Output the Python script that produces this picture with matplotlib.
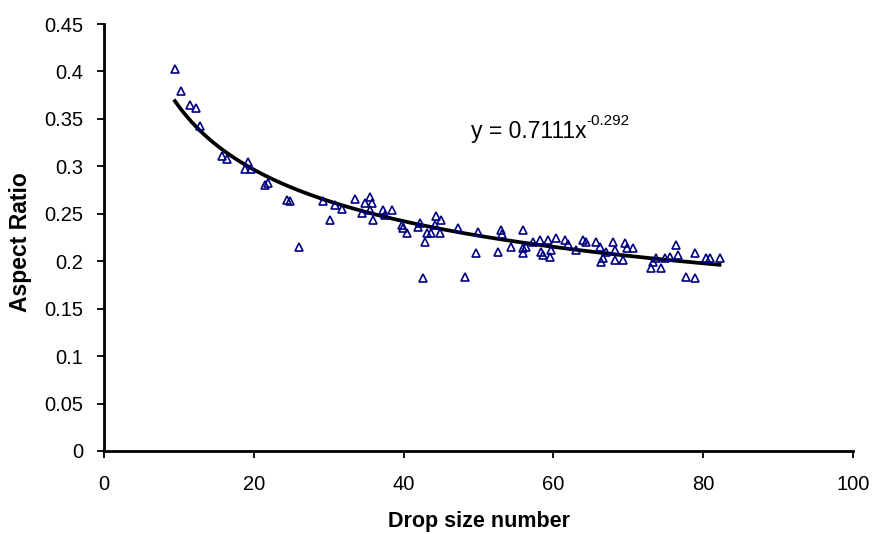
import numpy as np
import matplotlib
matplotlib.use("Agg")
import matplotlib.pyplot as plt

plt.rcParams['font.family'] = ['Liberation Sans', 'DejaVu Sans']

drop_size = [9.47, 10.23, 11.47, 12.27, 12.81, 15.70, 16.37, 18.81, 19.25, 19.6,
             21.48, 21.88, 24.38, 24.82, 26.06, 29.26, 30.15, 30.82, 31.71, 33.49,
             34.38, 34.82, 35.49, 35.72, 35.49, 35.93, 37.27, 37.49, 38.39, 39.72,
             40.39, 39.93, 41.94, 42.16, 42.83, 42.6, 43.06, 43.72, 44.16, 44.39,
             45.06, 44.83, 47.27, 48.17, 49.73, 49.94, 52.61, 53.06, 53.2, 54.4,
             55.94, 55.94, 56.4, 55.94, 57.28, 58.17, 58.4, 58.6, 59.51, 59.28,
             60.4, 59.73, 61.51, 61.9, 63.07, 63.95, 64.4, 65.74, 66.18, 66.4,
             67.07, 66.62, 67.95, 68.18, 68.18, 69.29, 69.51, 69.8, 70.62, 73.07,
             73.29, 73.74, 74.4, 74.84, 75.51, 76.41, 76.6, 77.75, 78.86, 78.86,
             80.41, 80.85, 82.18]
aspect_ratio = [0.4025, 0.379, 0.365, 0.362, 0.342, 0.311, 0.308, 0.297, 0.305, 0.297,
                0.280, 0.282, 0.2645, 0.263, 0.2153, 0.263, 0.2434, 0.2592, 0.2547, 0.2652,
                0.2505, 0.2616, 0.2673, 0.2616, 0.254, 0.2434, 0.254, 0.2487, 0.254, 0.2381,
                0.2294, 0.2347, 0.2364, 0.24, 0.2205, 0.182, 0.2294, 0.2294, 0.2381, 0.2476,
                0.2434, 0.2297, 0.2347, 0.183, 0.2083, 0.2311, 0.21, 0.2329, 0.2287, 0.2153,
                0.2329, 0.2136, 0.2153, 0.2083, 0.2205, 0.2223, 0.21, 0.2065, 0.2047, 0.2223,
                0.2241, 0.2118, 0.2223, 0.218, 0.2118, 0.2223, 0.2205, 0.2205, 0.2153, 0.1995,
                0.21, 0.203, 0.2205, 0.2118, 0.2013, 0.2013, 0.2189, 0.214, 0.2136, 0.1925,
                0.1995, 0.203, 0.1925, 0.203, 0.2047, 0.2171, 0.2065, 0.1837, 0.182, 0.2083,
                0.203, 0.203, 0.203]

fit_a = 0.7111
fit_b = -0.292

x_ticks = [0, 20, 40, 60, 80, 100]
y_ticks = [0, 0.05, 0.1, 0.15, 0.2, 0.25, 0.3, 0.35, 0.4, 0.45]
y_tick_labels = ['0', '0.05', '0.1', '0.15', '0.2', '0.25', '0.3', '0.35', '0.4', '0.45']

fig = plt.figure(figsize=(8.74, 5.34), dpi=100)
ax = fig.add_axes([104/874, 1-451/534, (853-104)/874, (451-24)/534])

ax.plot(drop_size, aspect_ratio, linestyle='none', marker='^', markersize=6,
        markerfacecolor='none', markeredgecolor='#000080', markeredgewidth=1.2, zorder=3)

xs = np.linspace(min(drop_size), max(drop_size), 200)
ax.plot(xs, fit_a * xs ** fit_b, color='black', linewidth=2.7, zorder=2)

eq = ax.text(49.0, 0.337, 'y = 0.7111x', fontsize=16.5, va='center', ha='left')
ax.annotate('-0.292', xy=(1.0, 0.62), xycoords=eq, fontsize=11, va='bottom', ha='left')

ax.set_xlim(0, 100)
ax.set_ylim(0, 0.45)
ax.set_xticks(x_ticks)
ax.set_yticks(y_ticks)
ax.set_yticklabels(y_tick_labels)
ax.tick_params(direction='out', length=5, width=1.3, labelsize=14.5)
ax.tick_params(axis='x', pad=12)
ax.tick_params(axis='y', pad=10)

for s in ['top', 'right']:
    ax.spines[s].set_visible(False)
for s in ['left', 'bottom']:
    ax.spines[s].set_linewidth(2.0)

fig.text(479/874, 1-521/534, 'Drop size number', fontsize=15.5, fontweight='bold',
         ha='center', va='center')
fig.text(21/874, 1-242/534, 'Aspect Ratio', fontsize=16.5, fontweight='bold',
         ha='center', va='center', rotation=90)

fig.savefig('out.png', dpi=100)
